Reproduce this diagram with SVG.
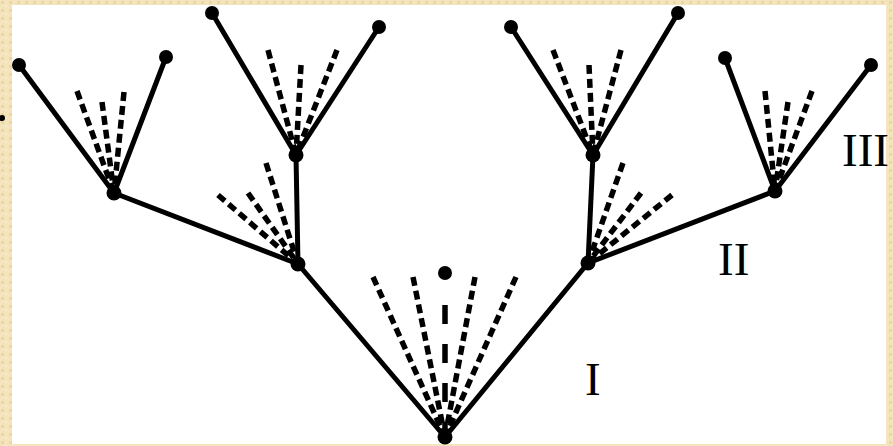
<svg xmlns="http://www.w3.org/2000/svg" width="893" height="446" viewBox="0 0 893 446">
<style>
.solid{stroke:#000;stroke-width:5;fill:none;stroke-linecap:round}
.dash{stroke:#000;stroke-width:5.5;fill:none;stroke-dasharray:9 5}
.dashc{stroke:#000;stroke-width:5.5;fill:none;stroke-dasharray:19 20}
.leaf{fill:#000}
.lbl{font-family:"Liberation Serif","Times New Roman",serif;font-size:47px;fill:#000}
</style>
<defs>
<pattern id="bg" width="8" height="8" patternUnits="userSpaceOnUse">
<rect width="8" height="8" fill="#f4e4bc"/>
<rect x="1" y="1" width="3" height="3" fill="#ecd7a4"/>
<rect x="5" y="5" width="2" height="2" fill="#f8ecd0"/>
</pattern>
</defs>
<rect width="893" height="446" fill="url(#bg)"/>
<rect x="12" y="5" width="874" height="439" fill="#fff"/>
<circle cx="2" cy="118" r="3" fill="#000"/>
<g id="fans">
<path class="dash" d="M373 277L445 437M413 277L445 437M475 277L445 437M516 277L445 437"/>
<path class="dashc" d="M445 305L445 437"/>
<path class="dash" d="M218 195L298 264M248 193L298 264M266 163L298 264"/>
<path class="dash" d="M623 163L588 263M641 193L588 263M672 195L588 263"/>
<path class="dash" d="M77 91L114 193M102 102L114 193M124 92L114 193"/>
<path class="dash" d="M268 50L296 155M301 65L296 155M337 50L296 155"/>
<path class="dash" d="M553 50L593 155M589 65L593 155M621 50L593 155"/>
<path class="dash" d="M765 91L775 191M788 102L775 191M812 91L775 191"/>
</g>
<g id="connectors">
<path class="solid" d="M445 437L298 264M445 437L588 263"/>
<path class="solid" d="M298 264L114 193M298 264L296 155"/>
<path class="solid" d="M588 263L593 155M588 263L775 191"/>
<path class="solid" d="M114 193L19 65M114 193L166 57"/>
<path class="solid" d="M296 155L212 13M296 155L379 27"/>
<path class="solid" d="M593 155L511 27M593 155L678 13"/>
<path class="solid" d="M775 191L725 58M775 191L871 65"/>
</g>
<g id="root"><circle class="leaf" cx="445" cy="437" r="7.5"/></g>
<g id="center-tip"><circle class="leaf" cx="445" cy="273" r="7"/></g>
<g id="n1-left"><circle class="leaf" cx="298" cy="264" r="7.5"/></g>
<g id="n1-right"><circle class="leaf" cx="588" cy="263" r="7.5"/></g>
<g id="n2-a"><circle class="leaf" cx="114" cy="193" r="7.5"/></g>
<g id="n2-b"><circle class="leaf" cx="296" cy="155" r="7.5"/></g>
<g id="n2-c"><circle class="leaf" cx="593" cy="155" r="7.5"/></g>
<g id="n2-d"><circle class="leaf" cx="775" cy="191" r="7.5"/></g>
<g id="l-a1"><circle class="leaf" cx="19" cy="65" r="7"/></g>
<g id="l-a2"><circle class="leaf" cx="166" cy="57" r="7"/></g>
<g id="l-b1"><circle class="leaf" cx="212" cy="13" r="7"/></g>
<g id="l-b2"><circle class="leaf" cx="379" cy="27" r="7"/></g>
<g id="l-c1"><circle class="leaf" cx="511" cy="27" r="7"/></g>
<g id="l-c2"><circle class="leaf" cx="678" cy="13" r="7"/></g>
<g id="l-d1"><circle class="leaf" cx="725" cy="58" r="7"/></g>
<g id="l-d2"><circle class="leaf" cx="871" cy="65" r="7"/></g>
<g id="labels">
<text class="lbl" x="585" y="395">I</text>
<text class="lbl" x="718" y="275">II</text>
<text class="lbl" x="842" y="166">III</text>
</g>
</svg>
